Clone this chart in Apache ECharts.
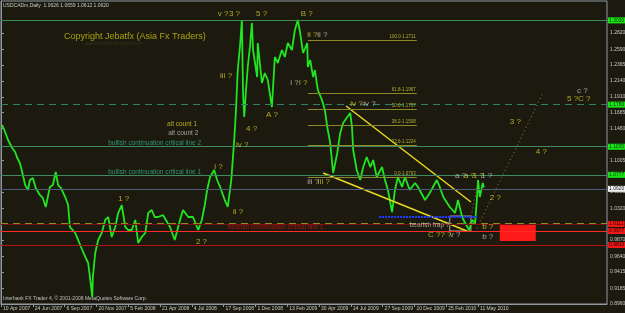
<!DOCTYPE html>
<html>
<head>
<meta charset="utf-8">
<script src="https://cdn.jsdelivr.net/npm/echarts@6/dist/echarts.min.js"></script>
<style>
html, body { margin: 0; padding: 0; background: #1c1a0e; }
#chart { width: 625px; height: 313px; }
</style>
</head>
<body>
<div id="chart"></div>
<script>
// USDCADm daily. x = trading bar counted from 10 Apr 2007
var bars = [2,7,12,19,24,27,32,36,41,46,49,54,59,66,71,76,83,88,93,97,102,109,114,117,126,131,138,143,148,151,
  155,156,160,165,171,177,182,188,194,199,205,211,216,222,228,233,239,245,250,256,261,267,275,287,295,304,309,318,326,335,
  341,346,350,355,362,367,372,380,385,391,396,399,402,406,409,411,413,416,419,423,426,428,435,436,443,448,453,460,465,470,
  477,482,487,494,499,504,508,513,520,521,525,530,533,538,545,550,554,559,564,571,576,581,588,593,596,598,604,610,615,621,
  627,632,638,647,652,657,664,669,674,681,686,694,703,708,720,728,740,745,751,762,771,776,783,788,795,800,805,808,810,813,
  818,820];
var closes = [1.1510,1.1410,1.1296,1.1182,1.1125,1.1054,1.0968,1.0840,1.0655,1.0584,1.0726,1.0755,1.0612,1.0513,1.0470,
  1.0342,1.0627,1.0655,1.0840,1.0655,1.0612,1.0484,1.0370,1.0057,0.9971,0.9872,0.9729,0.9630,0.9544,0.9345,
  0.9060,0.9345,0.9686,0.9872,0.9971,1.0157,1.0199,0.9914,1.0057,1.0256,1.0370,1.0057,1.0014,1.0014,1.0157,
  0.9829,0.9914,0.9971,1.0256,1.0299,1.0199,1.0199,1.0228,1.0057,0.9872,1.0157,1.0299,1.0199,1.0199,1.0014,
  1.0157,1.0370,1.0584,1.0769,1.0869,1.0726,1.0627,1.0441,1.0342,1.0726,1.1296,1.1723,1.2293,1.2649,1.3005,
  1.1966,1.1624,1.2008,1.2336,1.2649,1.2963,1.2578,1.2193,1.2678,1.2108,1.2250,1.2151,1.1766,1.2478,1.2393,
  1.2578,1.2478,1.2678,1.2578,1.2863,1.3005,1.2820,1.2535,1.2678,1.2336,1.2436,1.2193,1.2293,1.2008,1.1866,
  1.1723,1.1481,1.1253,1.0826,1.1111,1.1396,1.1538,1.1624,1.1681,1.1481,1.1154,1.0869,1.0726,1.0911,1.1054,
  1.0911,1.1011,1.0769,1.0911,1.0726,1.0584,1.0270,1.0584,1.0769,1.0627,1.0769,1.0584,1.0684,1.0627,1.0441,
  1.0541,1.0726,1.0627,1.0484,1.0342,1.0256,1.0441,1.0199,1.0114,1.0014,1.0157,1.0114,1.0441,1.0726,1.0484,
  1.0684,1.0620];

var dateTickBars = [0,54,108,162,216,270,324,378,432,486,540,594,648,702,756,810];
var dateLabels = ['10 Apr 2007','24 Jun 2007','6 Sep 2007','20 Nov 2007','5 Feb 2008','21 Apr 2008','4 Jul 2008',
  '17 Sep 2008','1 Dec 2008','13 Feb 2009','30 Apr 2009','14 Jul 2009','27 Sep 2009','10 Dec 2009','25 Feb 2010','11 May 2010'];
var priceTicks = [0.8960,0.9185,0.9415,0.9640,0.9870,1.0320,1.0555,1.1005,1.1460,1.1685,1.1910,1.2140,1.2365,1.2590,1.2820];

// horizontal levels
var topLine = 1.3030;
var dashLine = 1.1780;
var bullLine2 = 1.1195;
var bullLine1 = 1.0777;
var lastPrice = 1.0620;
var oliveLine = 1.0128;
var bearLine0 = 1.0111;
var bearLine1 = 0.9977;
var bearLine2 = 0.9810;

// fibonacci retracement
var fibNames = ['100.0','61.8','50.0','38.2','23.6','0.0'];
var fibPrices = [1.2711,1.1967,1.1737,1.1508,1.1224,1.0763];
var fibFrom = 521, fibTo = 706;

// trend lines / objects
var upperTrend = [[586,1.1780],[798,1.0413]];
var lowerTrend = [[547,1.0826],[791,1.0000]];
var projLong = [[805,0.9986],[920,1.1966]];
var projShort = [[793,0.9986],[810,1.0698]];
var blueLine = [[642,1.0199],[810,1.0199]];
var trapBox = [[762,1.0213],[798,1.0000]];
var redZone = [[847,1.0100],[908,0.9857]];

// wave counts
var yellowNotes = [
  [368,1.3091,'v ?'],[387,1.3091,'3 ?'],[433,1.3091,'5 ?'],[509,1.3091,'B ?'],
  [520,1.2792,'ii ?'],[372,1.2208,'iii ?'],[506,1.2108,'i ?'],[593,1.1809,'iv ?'],
  [450,1.1652,'A ?'],[416,1.1453,'4 ?'],[399,1.1225,'iv ?'],[362,1.0911,'i ?'],
  [538,1.0698,'iii ?'],[199,1.0456,'1 ?'],[331,0.9843,'2 ?'],[394,1.0270,'ii ?'],
  [786,1.0783,'a ?'],[801,1.0783,'1 ?'],[830,1.0470,'2 ?'],[864,1.1552,'3 ?'],
  [908,1.1125,'4 ?'],[961,1.1880,'5 ?C ?'],[725,0.9943,'C ?? ?'],[817,1.0057,'b ?']
];
var grayNotes = [
  [537,1.2792,'ii ?'],[491,1.2108,'i ?'],[615,1.1809,'iv ?'],[520,1.0698,'iii ?'],
  [771,1.0783,'a ?'],[815,1.0783,'1 ?'],[978,1.1994,'c ?'],[762,0.9943,'v ?'],[817,0.9914,'b ?']
];
var altNotes = [[282,1.1524,'alt count 1']];
var altNotes2 = [[284,1.1396,'alt count 2'],[694,1.0085,'bearish trap ?']];
var bullNotes = [[182,1.1253,'bullish continuation critical line 2'],[182,1.0840,'bullish continuation critical line 1']];
var bearNotes = [[385,1.0057,'bearish continuation critical line 1']];
var bannerNotes = [[107,1.2777,'Copyright Jebatfx (Asia Fx Traders)']];
var linkNotes = [[143,1.2663,'www.jebatfx.blogspot.com']];

var SANS = "'Liberation Sans', Arial, sans-serif";

var chart = echarts.init(document.getElementById('chart'));

function hLevel(v, color, width, type, bg, fg) {
  var item = { yAxis: v, lineStyle: { color: color, width: width, type: type } };
  if (bg) {
    item.label = {
      show: true, position: 'end', distance: 1, formatter: v.toFixed(4),
      backgroundColor: bg, color: fg, fontSize: 5, fontFamily: SANS, padding: [1, 1, 0, 1]
    };
  } else {
    item.label = { show: false };
  }
  return item;
}

var levelLines = [
  hLevel(topLine, '#3d8c55', 1, 'solid', '#19e619', '#0c300c'),
  hLevel(dashLine, '#2f8066', 1, [7, 5], '#19e619', '#0c300c'),
  hLevel(bullLine2, '#3d8c60', 1, 'solid', '#19e619', '#0c300c'),
  hLevel(bullLine1, '#3d8c60', 1, 'solid', '#19e619', '#0c300c'),
  hLevel(lastPrice, '#4e5c78', 1, 'solid', '#f2f2f2', '#202020'),
  hLevel(oliveLine, '#8e8c1e', 2, [7, 5], null, null),
  hLevel(bearLine0, '#7a1010', 1, 'solid', '#f01818', '#300000'),
  hLevel(bearLine1, '#ff2a2a', 1, 'solid', '#f01818', '#300000'),
  hLevel(bearLine2, '#b01414', 1, 'solid', '#f01818', '#300000')
];

var fibLines = fibPrices.map(function (p, i) {
  return [
    { coord: [fibFrom, p], lineStyle: { color: '#8c8a28', width: 1, type: 'solid' },
      label: { show: true, position: 'insideEndTop', distance: 1, formatter: fibNames[i] + '-' + p.toFixed(4),
        color: '#b0ae38', fontSize: 4.5, fontFamily: SANS } },
    { coord: [fibTo, p] }
  ];
});

function segSeries(pts, color, width, type) {
  return {
    type: 'line', data: pts, symbol: 'none', silent: true, z: 4, animation: false,
    lineStyle: { color: color, width: width, type: type }
  };
}

function noteSeries(list, color, size) {
  return {
    type: 'scatter', symbolSize: 0, silent: true, z: 6, animation: false,
    data: list.map(function (n) { return { name: n[2], value: [n[0], n[1]] }; }),
    label: {
      show: true, position: 'right', distance: 0, formatter: function (p) { return p.name; },
      color: color, fontSize: size, fontFamily: SANS
    }
  };
}

var option = {
  backgroundColor: '#1c1a0e',
  animation: false,
  title: {
    text: 'USDCADm,Daily  1.0626 1.0659 1.0612 1.0620',
    left: 3, top: 3, padding: 0,
    textStyle: { color: '#c8c8c8', fontSize: 5, fontWeight: 'normal', fontFamily: SANS }
  },
  graphic: [{
    type: 'text', left: 3, top: 296, silent: true,
    style: { text: 'Interbank FX Trader 4, \u00a9 2001-2008 MetaQuotes Software Corp.', fill: '#c0c0c0',
      font: '5px ' + SANS }
  }],
  grid: {
    left: 1, right: 18, top: 1, bottom: 9, show: true,
    borderColor: '#8f98a3', borderWidth: 1, backgroundColor: '#1c1a0e',
    containLabel: false, outerBoundsMode: 'none'
  },
  xAxis: {
    type: 'value', min: 0, max: 1029,
    axisLine: { show: true, lineStyle: { color: '#8f98a3' } },
    axisTick: { show: true, length: 3, customValues: dateTickBars, lineStyle: { color: '#8f98a3' } },
    axisLabel: {
      customValues: dateTickBars, align: 'left', margin: 2, padding: [0, 0, 0, 2],
      showMinLabel: true, hideOverlap: false,
      color: '#c8c8c8', fontSize: 5, fontFamily: SANS,
      formatter: function (v) { var i = dateTickBars.indexOf(v); return i < 0 ? '' : dateLabels[i]; }
    },
    splitLine: { show: false }
  },
  yAxis: {
    type: 'value', position: 'right', min: 0.896, max: 1.3276, scale: true,
    axisLine: { show: true, lineStyle: { color: '#8f98a3' } },
    axisTick: { show: true, length: 3, customValues: priceTicks, lineStyle: { color: '#8f98a3' } },
    axisLabel: {
      customValues: priceTicks, margin: 3, color: '#c8c8c8', fontSize: 5, fontFamily: SANS,
      showMinLabel: true, hideOverlap: false,
      formatter: function (v) { return v.toFixed(4); }
    },
    splitLine: { show: false }
  },
  series: [
    {
      name: 'USDCADm', type: 'line', data: bars.map(function (b, i) { return [b, closes[i]]; }),
      symbol: 'none', z: 3, silent: true,
      lineStyle: { color: '#1fe61f', width: 1.8 },
      markLine: {
        silent: true, symbol: ['none', 'none'], animation: false,
        data: levelLines.concat(fibLines)
      },
      markArea: {
        silent: true,
        data: [
          [{ coord: trapBox[0], itemStyle: { color: 'rgba(0,0,0,0)', borderColor: '#a8a8a8', borderWidth: 1 } },
           { coord: trapBox[1] }],
          [{ coord: redZone[0], itemStyle: { color: '#ff1a1a' } }, { coord: redZone[1] }]
        ]
      }
    },
    segSeries(upperTrend, '#e8d81c', 1.5, 'solid'),
    segSeries(lowerTrend, '#e8d81c', 1.5, 'solid'),
    segSeries(projLong, '#8e8c28', 1, [1, 3]),
    segSeries(projShort, '#8e8c28', 1, [1, 3]),
    segSeries(blueLine, '#1f3cff', 2, [2, 1]),
    noteSeries(yellowNotes, '#d6cc28', 8),
    noteSeries(grayNotes, '#c4c4c4', 8),
    noteSeries(altNotes, '#d6cc28', 6.5),
    noteSeries(altNotes2, '#c4c4c4', 6.5),
    noteSeries(bullNotes, '#36b094', 6.5),
    noteSeries(bearNotes, '#d41010', 6.5),
    noteSeries(bannerNotes, '#c8c010', 9),
    noteSeries(linkNotes, '#3c3a1a', 5)
  ]
};

chart.setOption(option);
window.addEventListener('resize', function () { chart.resize(); });
</script>
</body>
</html>
